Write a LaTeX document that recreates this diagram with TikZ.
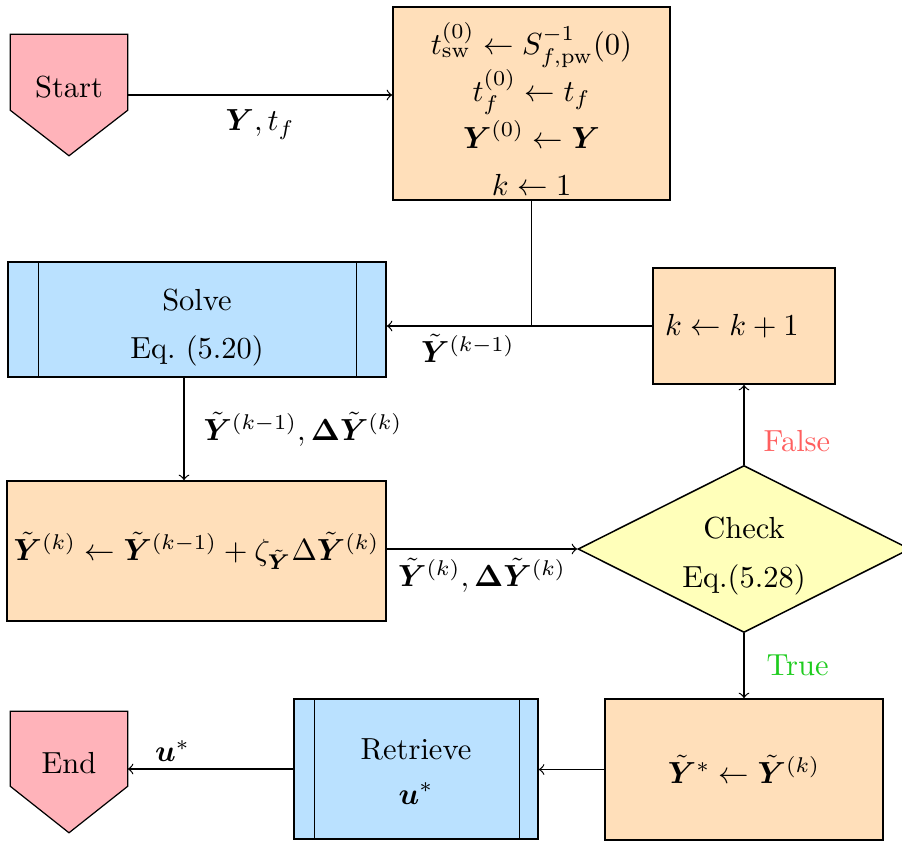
\documentclass[tikz,border=0pt]{standalone}
\usepackage{amsmath}
\usepackage{bm}
\usetikzlibrary{shapes.geometric,calc,backgrounds}
\definecolor{pinkc}{HTML}{FFB3BA}
\definecolor{peachc}{HTML}{FFDFBA}
\definecolor{bluec}{HTML}{BAE1FF}
\definecolor{yellowc}{HTML}{FFFFBA}
\definecolor{falsec}{HTML}{FF5F5F}
\definecolor{truec}{HTML}{1ECC1E}
\newdimen\pxu \pxu=0.328pt
% #1 height, #2 width, #3 baselineskip, #4 first baseline from top, #5 lines (all in px)
\newcommand{\mlinesbox}[5]{\vbox to #1\pxu{\hsize=#2\pxu\baselineskip=#3\pxu\relax\lineskiplimit=-\maxdimen\lineskip=0pt\hbox{}\vskip\dimexpr#4\pxu-#3\pxu\relax #5\vss}}
\begin{document}
\begin{tikzpicture}[x=0.328pt,y=-0.328pt,line width=0.5pt,>=to,
  every node/.style={inner sep=0pt},
  box/.style={draw, rectangle, inner sep=0pt},
  peachbox/.style={box, fill=peachc},
  bluebox/.style={box, fill=bluec},
  termnode/.style={inner sep=0pt, minimum width=116*\pxu, minimum height=120*\pxu},
  pentshape/.style={draw, fill=pinkc, line join=miter},
  decision/.style={diamond, aspect=2, draw, fill=yellowc, inner sep=0pt, minimum width=332*\pxu, minimum height=167*\pxu},
  conn/.style={->},
  lbl/.style={inner sep=0pt}]
\useasboundingbox (0,0) rectangle (902,841);
\clip (0,0) rectangle (902,841);

\node[termnode] (start) at (69,95) {\mlinesbox{120}{116}{62}{62}{\centerline{Start}}};
\node[peachbox, minimum width=277*\pxu, minimum height=193*\pxu] (init) at (531.5,103.5)
  {\mlinesbox{193}{277}{47}{47}{%
    \centerline{$t_{\mathrm{sw}}^{(0)} \leftarrow S_{f,\mathrm{pw}}^{-1}(0)$}%
    \centerline{$t_f^{(0)} \leftarrow t_f$}%
    \centerline{$\bm{Y}^{(0)} \leftarrow \bm{Y}$}%
    \centerline{$k \leftarrow 1$}}};
\node[bluebox, minimum width=378*\pxu, minimum height=115*\pxu] (solve) at (197,319.5)
  {\mlinesbox{115}{378}{48}{48}{\centerline{Solve}\centerline{Eq.~(5.20)}}};
\node[peachbox, minimum width=182*\pxu, minimum height=116*\pxu] (inc) at (744,326)
  {\hbox to 182\pxu{\hskip12\pxu$k \leftarrow k+1$\hss}};
\node[peachbox, minimum width=379*\pxu, minimum height=140*\pxu] (upd) at (196.5,551)
  {$\tilde{\bm{Y}}^{(k)} \leftarrow \tilde{\bm{Y}}^{(k-1)} + \zeta_{\tilde{\bm{Y}}}\Delta\tilde{\bm{Y}}^{(k)}$};
\node[decision] (chk) at (744,549)
  {\mlinesbox{80}{100}{49}{29}{\centerline{Check}\centerline{Eq.(5.28)}}};
\node[peachbox, minimum width=278*\pxu, minimum height=141*\pxu] (fin) at (744,769.5)
  {$\tilde{\bm{Y}}^{*} \leftarrow \tilde{\bm{Y}}^{(k)}$};
\node[bluebox, minimum width=244*\pxu, minimum height=140*\pxu] (ret) at (416,769)
  {\mlinesbox{140}{244}{45}{60}{\centerline{Retrieve}\centerline{$\bm{u}^{*}$}}};
\node[termnode] (end) at (69,772) {\mlinesbox{120}{116}{61}{61}{\centerline{End}}};

\begin{pgfonlayer}{background}
\path[pentshape] (start.north west) -- (start.north east) -- ($(start.north east)+(0,76)$)
  -- (start.south) -- ($(start.north west)+(0,76)$) -- cycle;
\path[pentshape] (end.north west) -- (end.north east) -- ($(end.north east)+(0,75)$)
  -- (end.south) -- ($(end.north west)+(0,75)$) -- cycle;
\end{pgfonlayer}

% predefined-process side bars
\draw ($(solve.north west)+(31,0)$) -- ($(solve.south west)+(31,0)$);
\draw ($(solve.north east)+(-30,0)$) -- ($(solve.south east)+(-30,0)$);
\draw ($(ret.north west)+(21,0)$) -- ($(ret.south west)+(21,0)$);
\draw ($(ret.north east)+(-19,0)$) -- ($(ret.south east)+(-19,0)$);

% connectors
\draw[conn] (start.east) -- (start.east -| init.west)
  node[lbl, midway, below=14*\pxu] {$\bm{Y}, t_f$};
\coordinate (jn) at (init.south |- inc.west);
\draw (init.south) -- (jn);
\draw (inc.west) -- (jn);
\draw[conn] (jn) -- (jn -| solve.east)
  node[lbl, pos=0.44, below=8*\pxu] {$\tilde{\bm{Y}}^{(k-1)}$};
\coordinate (s1) at ($(solve.south)+(-13,0)$);
\draw[conn] (s1) -- (s1 |- upd.north)
  node[lbl, midway, right=19*\pxu] {$\tilde{\bm{Y}}^{(k-1)}, \bm{\Delta}\tilde{\bm{Y}}^{(k)}$};
\draw[conn] (upd.east |- chk.west) -- (chk.west)
  node[lbl, midway, below=9*\pxu] {$\tilde{\bm{Y}}^{(k)}, \bm{\Delta}\tilde{\bm{Y}}^{(k)}$};
\draw[conn] (chk.north) -- (inc.south)
  node[lbl, pos=0.3, right=19*\pxu, text=falsec] {False};
\draw[conn] (chk.south) -- (fin.north)
  node[lbl, midway, right=22*\pxu, text=truec] {True};
\draw[conn] (fin.west) -- (fin.west -| ret.east);
\draw[conn] (ret.west) -- (ret.west -| end.east)
  node[lbl, pos=0.73, above=7*\pxu] {$\bm{u}^{*}$};
\end{tikzpicture}
\end{document}
